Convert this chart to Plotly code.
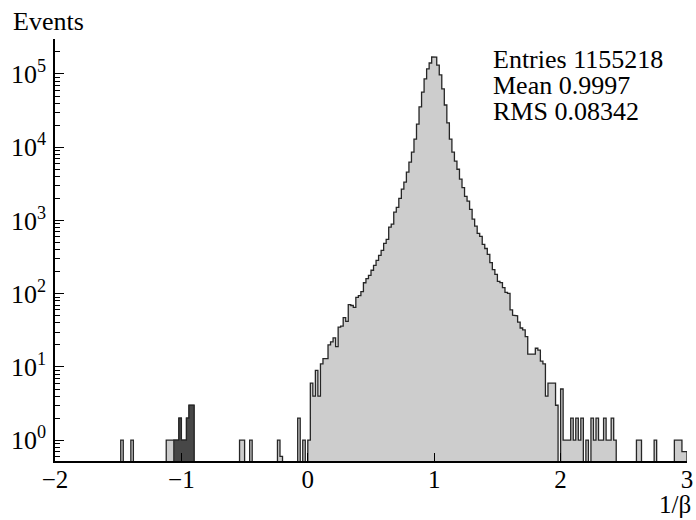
import numpy as np
import plotly.graph_objects as go

# ---------------- data ----------------
x_min, x_max, bin_width = -2.0, 3.0, 0.02

# core of the distribution: bins with lower edges 0.00, 0.02, ... 2.00
core_counts = [
    1, 6, 4, 9, 4, 11, 13, 13, 20, 22,
    25, 19, 35, 36, 47, 42, 71, 69, 65, 89,
    94, 107, 141, 161, 178, 209, 244, 285, 334, 391,
    487, 552, 811, 893, 1296, 1510, 2000, 2680, 3330, 4560,
    6260, 8560, 12900, 20700, 35600, 56600, 85500, 117000, 141000, 171000,
    170000, 132000, 97000, 62500, 37700, 21500, 12900, 8560, 6460, 5000,
    3660, 2800, 2130, 1830, 1420, 1040, 835, 665, 605, 470,
    414, 345, 265, 213, 183, 147, 142, 121, 104, 101,
    60, 51, 50, 41, 34, 32, 26, 15, 15, 15,
    18, 17, 12, 11, 4, 6, 6, 6, 3, 0,
    5,
]

# sparse negative tail (bin lower edge -> entries)
left_edges = [-1.48, -1.40, -1.12, -1.10, -1.08, -0.54, -0.52, -0.46, -0.24, -0.22, -0.08, -0.04]
left_counts = [1, 1, 1, 1, 1, 1, 1, 1, 1, 0.6, 2, 1]

# dark-filled group around -1
dark_edges = [-1.06, -1.04, -1.02, -1.00, -0.98, -0.96, -0.94, -0.92]
dark_counts = [1, 1, 2, 1, 1, 2, 3, 3]

# sparse tail above 2
right_edges = [2.02, 2.04, 2.06, 2.08, 2.10, 2.12, 2.14, 2.16, 2.20, 2.24, 2.26, 2.28,
               2.30, 2.32, 2.34, 2.36, 2.38, 2.40, 2.42, 2.60, 2.62, 2.74, 2.90, 2.92,
               2.94, 2.96, 2.98]
right_counts = [1, 1, 1, 2, 1, 2, 1, 2, 1, 2, 1, 2,
                1, 1, 2, 1, 1, 2, 1, 1, 1, 1, 1, 1,
                1, 0.7, 0.7]

stats_lines = ["Entries 1155218", "Mean 0.9997", "RMS 0.08342"]
x_tick_vals = [-2, -1, 0, 1, 2, 3]
x_tick_text = ["\u22122", "\u22121", "0", "1", "2", "3"]
y_tick_vals = [1, 10, 100, 1000, 10000, 100000]
y_tick_text = ["10<sup>%d</sup>" % p for p in range(6)]

# ---------------- build histogram ----------------
n_bins = int(round((x_max - x_min) / bin_width))
counts = np.zeros(n_bins)


def idx(edge):
    return int(round((edge - x_min) / bin_width))


for k, c in enumerate(core_counts):
    counts[idx(0.0) + k] = c
for e, c in zip(left_edges, left_counts):
    counts[idx(e)] = c
for e, c in zip(dark_edges, dark_counts):
    counts[idx(e)] = c
for e, c in zip(right_edges, right_counts):
    counts[idx(e)] = c

dark = np.zeros(n_bins)
for e, c in zip(dark_edges, dark_counts):
    dark[idx(e)] = c

FLOOR = 0.05  # below the visible range: empty bins drop to the axis


def step_polygon(h, i0=0, i1=None):
    if i1 is None:
        i1 = len(h)
    xs, ys = [x_min + i0 * bin_width], [FLOOR]
    for i in range(i0, i1):
        c = h[i]
        x0 = x_min + i * bin_width
        x1 = x0 + bin_width
        y = c if c > 0 else FLOOR
        xs += [x0, x1]
        ys += [y, y]
    xs.append(x_min + i1 * bin_width)
    ys.append(FLOOR)
    return xs, ys


fig = go.Figure()
hx, hy = step_polygon(counts)
fig.add_trace(go.Scatter(x=hx, y=hy, mode="lines", fill="toself",
                         fillcolor="#cdcdcd",
                         line=dict(color="#262626", width=1.3),
                         hoverinfo="skip", showlegend=False))

# dark group drawn over its own bins
nz = np.nonzero(dark)[0]
dx, dy = step_polygon(dark, int(nz.min()), int(nz.max()) + 1)
fig.add_trace(go.Scatter(x=dx, y=dy, mode="lines", fill="toself",
                         fillcolor="#474747",
                         line=dict(color="#262626", width=1.2),
                         hoverinfo="skip", showlegend=False))

FONT = "Liberation Serif"

fig.update_layout(
    width=696, height=520,
    margin=dict(l=55, r=9, t=39, b=59),
    paper_bgcolor="white", plot_bgcolor="white",
    font=dict(family=FONT, color="black", size=24),
    showlegend=False,
    xaxis=dict(range=[x_min, x_max], tickmode="array", tickvals=x_tick_vals,
               ticktext=x_tick_text, ticks="inside", ticklen=8, tickwidth=1.3,
               tickcolor="black", showline=True, linecolor="black", linewidth=1.5,
               showgrid=False, zeroline=False, tickfont=dict(size=25, family=FONT),
               ticklabelstandoff=-5, automargin=False),
    yaxis=dict(type="log", range=[np.log10(0.52), np.log10(3e5)],
               tickmode="array", tickvals=y_tick_vals, ticktext=y_tick_text,
               ticks="inside", ticklen=9, tickwidth=1.3, tickcolor="black",
               minor=dict(ticks="inside", ticklen=5, tickwidth=1.1, tickcolor="black",
                          dtick="D1", showgrid=False),
               showline=True, linecolor="black", linewidth=1.5,
               showgrid=False, zeroline=False, tickfont=dict(size=26, family=FONT),
               ticklabelstandoff=2, automargin=False),
)

fig.add_annotation(text="Events", xref="paper", yref="paper", x=-0.07, y=1.042,
                   xanchor="left", yanchor="middle", showarrow=False,
                   font=dict(size=26, family=FONT))
fig.add_annotation(text="1/\u03b2", xref="paper", yref="paper", x=1.0095, y=-0.102,
                   xanchor="right", yanchor="middle", showarrow=False,
                   font=dict(size=25, family=FONT))
for line, yy in zip(stats_lines, [0.951, 0.890, 0.829]):
    fig.add_annotation(text=line, xref="paper", yref="paper", x=0.69, y=yy,
                       xanchor="left", yanchor="middle", showarrow=False,
                       font=dict(size=26, family=FONT))

fig.write_html("out.html")
